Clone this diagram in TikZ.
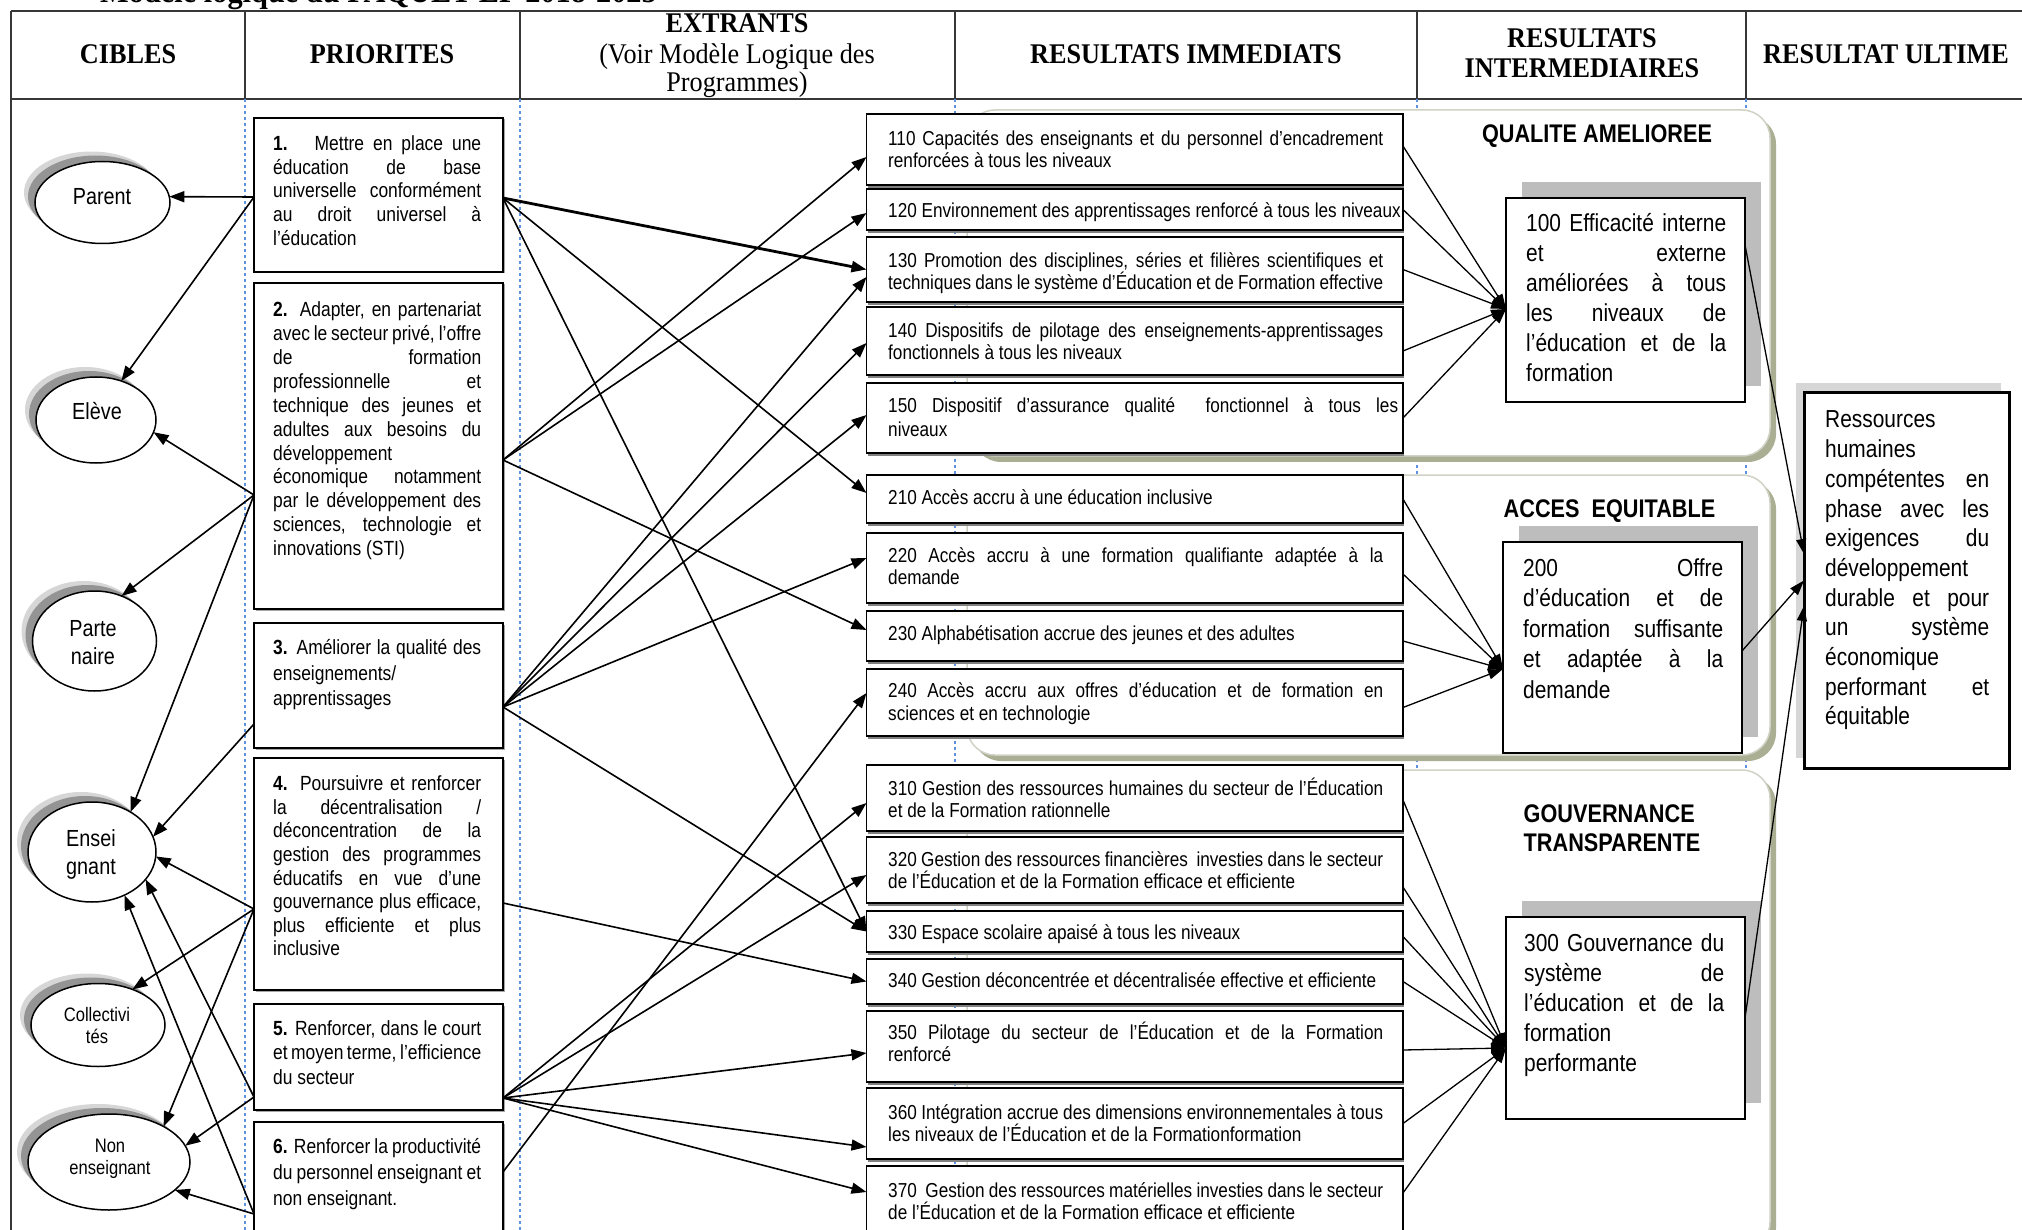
\documentclass[tikz,border=0pt]{standalone}
\usepackage{fontspec}
\usetikzlibrary{shapes.geometric,arrows.meta,shadows}
\newfontfamily\sansn[FakeStretch=0.85]{Liberation Sans}
\newfontfamily\serifn[FakeStretch=0.92]{Liberation Serif}
% one fully justified line of a fixed width (font interword glue, stretchable)
\newcommand\jwide[2]{\leavevmode\hbox to #1{\spaceskip=0pt\relax\xspaceskip=0pt\relax #2}}
\newcommand\jpri[1]{\jwide{208pt}{#1}}
\newcommand\jri[1]{\jwide{495pt}{#1}}
\newcommand\jint[1]{\jwide{200pt}{#1}}
\newcommand\jult[1]{\jwide{164pt}{#1}}
\definecolor{rulegray}{RGB}{55,55,55}
\definecolor{colsep}{RGB}{95,145,225}
\definecolor{panelline}{RGB}{208,210,198}
\definecolor{panelshade}{RGB}{170,175,148}
\begin{document}
\begin{tikzpicture}[x=1pt,y=-1pt,
  hd/.style={font=\serifn\bfseries\fontsize{28.5}{30}\selectfont, inner sep=0, anchor=base},
  hdn/.style={font=\serifn\fontsize{28.5}{30}\selectfont, inner sep=0, anchor=base},
  rule/.style={draw=rulegray, line width=2},
  dashsep/.style={draw=colsep, line width=1.2, dash pattern=on 3pt off 3pt},
  ell/.style={ellipse, draw=black, line width=1.5, fill=white, inner sep=0, outer sep=0,
    general shadow={fill=black!16, shadow xshift=-11pt, shadow yshift=10pt},
    general shadow={fill=black!42, shadow xshift=-7pt, shadow yshift=6pt}},
  lab/.style={font=\sansn\fontsize{23.3}{28}\selectfont, inner sep=0, anchor=base},
  labs/.style={font=\sansn\fontsize{19.5}{22}\selectfont, inner sep=0, anchor=base},
  prbox/.style={draw=black, line width=2.6, fill=white, inner sep=0, outer sep=0, anchor=north west,
    minimum width=249pt, general shadow={fill=black!35, shadow xshift=1.5pt, shadow yshift=-1.5pt}},
  prtxt/.style={font=\sansn\fontsize{20.5}{23.7}\selectfont, text width=212pt, align=flush left,
    inner sep=0, anchor=base west},
  ribox/.style={draw=black, line width=1.8, fill=white, inner sep=0, outer sep=0, anchor=north west,
    minimum width=536.5pt, general shadow={fill=black!50, shadow xshift=1pt, shadow yshift=-3pt}},
  ritxt/.style={font=\sansn\fontsize{20.2}{22}\selectfont, text width=515pt, align=flush left,
    inner sep=0, anchor=base west},
  itbox/.style={draw=black, line width=1.8, fill=white, inner sep=0, outer sep=0, anchor=north west,
    minimum width=239pt, general shadow={fill=black!26, shadow xshift=16pt, shadow yshift=16pt}},
  ittxt/.style={font=\sansn\fontsize{24.6}{30}\selectfont, text width=204pt, align=flush left,
    inner sep=0, anchor=base west},
  grp/.style={font=\sansn\bfseries\fontsize{25.5}{29}\selectfont, inner sep=0},
  link/.style={line width=1.6, -{Triangle[length=15pt,width=11pt]}},
  heavy/.style={link, line width=2.8},
  feed/.style={line width=1.3, -{Triangle[length=15pt,width=10pt]}}
]
\useasboundingbox (0,0) rectangle (2022,1230);
\clip (0,0) rectangle (2022,1230);

% ---------- title line (cut by the page top) ----------
\node[anchor=base west, font=\serifn\bfseries\fontsize{33}{36}\selectfont, inner sep=0] (titre)
  at (100,3) {Modèle logique du PAQUET-EF 2018-2025};

% ---------- column header ----------
\draw[rule] (11,11) -- (2022,11) (11,99) -- (2022,99);
\draw[rule] (11,11) -- (11,1230);
\foreach \x in {245,520,955,1417,1746} \draw[rule] (\x,11) -- (\x,99);
\node[hd] (hcib) at (128,63.4) {CIBLES};
\node[hd] (hpri) at (382,63.4) {PRIORITES};
\node[hd] (hext) at (737,32.5) {EXTRANTS};
\node[hdn] (hext2) at (737,63.4) {(Voir Modèle Logique des};
\node[hdn] (hext3) at (737,92) {Programmes)};
\node[hd] (hri) at (1186,63.4) {RESULTATS IMMEDIATS};
\node[hd] (hrin1) at (1582,48) {RESULTATS};
\node[hd] (hrin2) at (1582,77.7) {INTERMEDIAIRES};
\node[hd, anchor=base west] (hru) at (1763,63.4) {RESULTAT ULTIME};

% ---------- dotted column guides ----------
\foreach \x in {245,520,955,1417,1746} \draw[dashsep] (\x,99) -- (\x,1230);

% ---------- result group panels ----------
\foreach \ya/\yb in {110/456, 475/755, 770/1250} {
  \fill[panelshade, rounded corners=28] (973,\ya+6) rectangle (1776,\yb+6);
  \draw[panelline, fill=white, line width=1.5, rounded corners=28] (967,\ya) rectangle (1770,\yb);
}
\node[grp, anchor=base] (tq) at (1597,143) {QUALITE AMELIOREE};
\node[grp, anchor=base] (ta) at (1609.5,517) {ACCES\ \ EQUITABLE};
\node[grp, anchor=base west] (tg1) at (1523.5,822) {GOUVERNANCE};
\node[grp, anchor=base west] (tg2) at (1523.5,851) {TRANSPARENTE};

% ---------- intermediate results ----------
\node[itbox, minimum height=204pt] (i100) at (1506,198) {};
\node[ittxt] (ti100) at (1526,232) {\jint{100 Efficacité interne}\\
  \jint{et externe}\\ \jint{améliorées à tous}\\ \jint{les niveaux de}\\
  \jint{l’éducation et de la}\\ formation};
\node[itbox, minimum height=211pt] (i200) at (1503,542) {};
\node[ittxt, font=\sansn\fontsize{24.6}{30.5}\selectfont] (ti200) at (1523,576) {\jint{200 Offre}\\
  \jint{d’éducation et de}\\ \jint{formation suffisante}\\ \jint{et adaptée à la}\\ demande};
\node[itbox, minimum height=202pt] (i300) at (1506,917) {};
\node[ittxt] (ti300) at (1524,951) {\jint{300 Gouvernance du}\\
  \jint{système de}\\ \jint{l’éducation et de la}\\ formation\\ performante};

% ---------- ultimate result ----------
\node[draw=black, line width=3, fill=white, inner sep=0, outer sep=0, anchor=north west,
  minimum width=205pt, minimum height=375pt,
  general shadow={fill=black!16, shadow xshift=-8pt, shadow yshift=10pt}] (ru) at (1804,393) {};
\node[ittxt, text width=168pt, font=\sansn\fontsize{24.6}{29.7}\selectfont] (tru) at (1825,428)
  {Ressources\\ humaines\\ \jult{compétentes en}\\ \jult{phase avec les}\\
   \jult{exigences du}\\ développement\\ \jult{durable et pour}\\ \jult{un système}\\
   économique\\ \jult{performant et}\\ équitable};

% ---------- targets ----------
\node[ell, minimum width=135pt, minimum height=82pt] (parent) at (102.5,202.5) {};
\node[lab] (lparent) at (102,205) {Parent};
\node[ell, minimum width=120pt, minimum height=86pt] (eleve) at (96,420) {};
\node[lab] (leleve) at (97,420) {Elève};
\node[ell, minimum width=124pt, minimum height=100pt] (parten) at (94.5,641) {};
\node[lab] (lparten1) at (93,636) {Parte};
\node[lab] (lparten2) at (93,664) {naire};
\node[ell, minimum width=128pt, minimum height=100pt] (enseig) at (92,852) {};
\node[lab] (lenseig1) at (91,846) {Ensei};
\node[lab] (lenseig2) at (91,874) {gnant};
\node[ell, minimum width=134pt, minimum height=83pt] (collec) at (98,1025) {};
\node[labs] (lcollec1) at (97,1021) {Collectivi};
\node[labs] (lcollec2) at (97,1043) {tés};
\node[ell, minimum width=162pt, minimum height=96pt] (nonens) at (109,1162) {};
\node[labs] (lnonens1) at (110,1152) {Non};
\node[labs] (lnonens2) at (110,1174) {enseignant};

% ---------- priorities ----------
\node[prbox, minimum height=154pt] (p1) at (254,118) {};
\node[prtxt] (tp1) at (273,150.4) {\jpri{\textbf{1.}\ \ \ Mettre en place une}\\
  \jpri{éducation de base}\\ \jpri{universelle conformément}\\ \jpri{au droit universel à}\\ l’éducation};
\node[prbox, minimum height=326pt] (p2) at (254,283) {};
\node[prtxt, font=\sansn\fontsize{20.5}{23.9}\selectfont] (tp2) at (273,316.7) {\jpri{\textbf{2.} Adapter, en partenariat}\\
  \jpri{avec le secteur privé, l’offre}\\ \jpri{de formation}\\ \jpri{professionnelle et}\\
  \jpri{technique des jeunes et}\\ \jpri{adultes aux besoins du}\\ développement\\
  \jpri{économique notamment}\\ \jpri{par le développement des}\\ \jpri{sciences, technologie et}\\
  innovations (STI)};
\node[prbox, minimum height=125pt] (p3) at (254,623) {};
\node[prtxt, font=\sansn\fontsize{20.5}{25.5}\selectfont] (tp3) at (273,654.5)
  {\jpri{\textbf{3.} Améliorer la qualité des}\\ enseignements/\\ apprentissages};
\node[prbox, minimum height=232pt] (p4) at (254,758) {};
\node[prtxt, font=\sansn\fontsize{20.5}{23.6}\selectfont] (tp4) at (273,790.7) {\jpri{\textbf{4.} Poursuivre et renforcer}\\
  \jpri{la décentralisation /}\\ \jpri{déconcentration de la}\\ \jpri{gestion des programmes}\\
  \jpri{éducatifs en vue d’une}\\ \jpri{gouvernance plus efficace,}\\ \jpri{plus efficiente et plus}\\ inclusive};
\node[prbox, minimum height=106pt] (p5) at (254,1004) {};
\node[prtxt, font=\sansn\fontsize{20.5}{24.5}\selectfont] (tp5) at (273,1035)
  {\jpri{\textbf{5.} Renforcer, dans le court}\\ \jpri{et moyen terme, l’efficience}\\ du secteur};
\node[prbox, minimum height=128pt] (p6) at (254,1122) {};
\node[prtxt, font=\sansn\fontsize{20.5}{26}\selectfont] (tp6) at (273,1153.4)
  {\jpri{\textbf{6.} Renforcer la productivité}\\ \jpri{du personnel enseignant et}\\ non enseignant.};

% ---------- immediate results ----------
\node[ribox, minimum height=71pt] (r110) at (866.5,114) {};
\node[ritxt] (t110) at (888,145.3) {\jri{110 Capacités des enseignants et du personnel d’encadrement}\\ renforcées à tous les niveaux};
\node[ribox, minimum height=41pt] (r120) at (866.5,189) {};
\node[ritxt] (t120) at (888,217.3) {\mbox{120 Environnement des apprentissages renforcé à tous les niveaux}};
\node[ribox, minimum height=65pt] (r130) at (866.5,237) {};
\node[ritxt] (t130) at (888,267.3) {\jri{130 Promotion des disciplines, séries et filières scientifiques et}\\
  \jri{techniques dans le système d’Éducation et de Formation effective}};
\node[ribox, minimum height=68pt] (r140) at (866.5,307) {};
\node[ritxt] (t140) at (888,337.3) {\jri{140 Dispositifs de pilotage des enseignements-apprentissages}\\ fonctionnels à tous les niveaux};
\node[ribox, minimum height=70pt] (r150) at (866.5,383) {};
\node[ritxt, font=\sansn\fontsize{20.2}{24}\selectfont] (t150) at (888,412.3) {\jwide{510pt}{150 Dispositif d’assurance qualité\ \ fonctionnel à tous les}\\ niveaux};

\node[ribox, minimum height=48pt] (r210) at (866.5,475) {};
\node[ritxt] (t210) at (888,504) {210 Accès accru à une éducation inclusive};
\node[ribox, minimum height=70pt] (r220) at (866.5,533) {};
\node[ritxt] (t220) at (888,562.3) {\jri{220 Accès accru à une formation qualifiante adaptée à la}\\ demande};
\node[ribox, minimum height=50pt] (r230) at (866.5,611) {};
\node[ritxt] (t230) at (888,640.3) {230 Alphabétisation accrue des jeunes et des adultes};
\node[ribox, minimum height=67pt] (r240) at (866.5,669) {};
\node[ritxt, font=\sansn\fontsize{20.2}{23.5}\selectfont] (t240) at (888,697.3) {\jri{240 Accès accru aux offres d’éducation et de formation en}\\ sciences et en technologie};

\node[ribox, minimum height=66pt] (r310) at (866.5,765) {};
\node[ritxt] (t310) at (888,795.3) {\jri{310 Gestion des ressources humaines du secteur de l’Éducation}\\ et de la Formation rationnelle};
\node[ribox, minimum height=66pt] (r320) at (866.5,837) {};
\node[ritxt] (t320) at (888,866.3) {\jri{320 Gestion des ressources financières\ \ investies dans le secteur}\\ de l’Éducation et de la Formation efficace et efficiente};
\node[ribox, minimum height=41pt] (r330) at (866.5,911) {};
\node[ritxt] (t330) at (888,939.3) {330 Espace scolaire apaisé à tous les niveaux};
\node[ribox, minimum height=45pt] (r340) at (866.5,959) {};
\node[ritxt] (t340) at (888,987.3) {340 Gestion déconcentrée et décentralisée effective et efficiente};
\node[ribox, minimum height=71pt] (r350) at (866.5,1011) {};
\node[ritxt] (t350) at (888,1039.3) {\jri{350 Pilotage du secteur de l’Éducation et de la Formation}\\ renforcé};
\node[ribox, minimum height=71pt] (r360) at (866.5,1088) {};
\node[ritxt] (t360) at (888,1119.3) {\jri{360 Intégration accrue des dimensions environnementales à tous}\\ les niveaux de l’Éducation et de la Formationformation};
\node[ribox, minimum height=84pt] (r370) at (866.5,1166) {};
\node[ritxt] (t370) at (888,1197.3) {\jri{370\ \ Gestion des ressources matérielles investies dans le secteur}\\ de l’Éducation et de la Formation efficace et efficiente};

% ---------- connection points on the priority boxes ----------
\coordinate (p1l) at ([yshift=-2pt]p1.west);
\coordinate (p2l) at ([yshift=-49pt]p2.west);
\coordinate (p3l) at ([yshift=-38.5pt]p3.west);
\coordinate (p4l) at ([yshift=-35pt]p4.west);
\coordinate (p5l) at ([yshift=-40pt]p5.west);
\coordinate (p6l) at ([yshift=-28pt]p6.west);
\coordinate (p1r) at ([yshift=-3pt]p1.east);
\coordinate (p2r) at ([yshift=-14pt]p2.east);
\coordinate (p3r) at ([yshift=-21.5pt]p3.east);
\coordinate (p4r) at ([yshift=-29pt]p4.east);
\coordinate (p5r) at ([yshift=-41pt]p5.east);
\coordinate (p6r) at ([yshift=14pt]p6.east);

% priorities -> targets
\draw[link] (p1l) -- (parent.5);
\draw[link] (p1l) -- (eleve.57);
\draw[link] (p2l) -- (eleve.-12);
\draw[link] (p2l) -- (parten.59);
\draw[link] (p2l) -- (enseig.46);
\draw[link] (p3l) -- (enseig.14);
\draw[link] (p4l) -- (enseig.-4);
\draw[link] (p4l) -- (collec.46);
\draw[link] (p4l) -- (nonens.33);
\draw[link] (p5l) -- (enseig.-27);
\draw[link] (p5l) -- (nonens.12);
\draw[link] (p6l) -- (enseig.-53);
\draw[link] (p6l) -- (nonens.-23);

% priorities -> immediate results
\draw[heavy] (p1r) -- (r130.west);
\draw[link] (p1r) -- ([yshift=6pt]r210.west);
\draw[link] (p1r) -- (r330.west);
\draw[link] (p2r) -- ([yshift=-7.5pt]r110.west);
\draw[link] (p2r) -- ([yshift=-3.5pt]r120.west);
\draw[link] (p2r) -- ([yshift=6pt]r230.west);
\draw[link] (p3r) -- ([yshift=-7.5pt]r130.west);
\draw[link] (p3r) -- ([yshift=-2pt]r140.west);
\draw[link] (p3r) -- ([yshift=3pt]r150.west);
\draw[link] (p3r) -- ([yshift=10pt]r220.west);
\draw[link] (p3r) -- (r330.west);
\draw[link] (p4r) -- (r340.west);
\draw[link] (p5r) -- ([yshift=-5pt]r310.west);
\draw[link] (p5r) -- ([yshift=-5pt]r320.west);
\draw[link] (p5r) -- ([yshift=-6.5pt]r350.west);
\draw[link] (p5r) -- ([yshift=-23.5pt]r360.west);
\draw[link] (p5r) -- ([yshift=16pt]r370.west);
\draw[link] (p6r) -- ([yshift=9.5pt]r240.west);

% immediate -> intermediate results
\foreach \n/\s in {r110/3.5, r120/0, r130/0, r140/-10, r150/0}
  \draw[feed] ([yshift=\s]\n.east) -- ([yshift=-9]i100.west);
\foreach \n/\s in {r210/0, r220/-6, r230/-5, r240/-5}
  \draw[feed] ([yshift=\s]\n.east) -- ([yshift=-21.5]i200.west);
\foreach \n/\s in {r310/-2, r320/-17, r330/-5, r340/0, r350/-3.5, r360/0, r370/15}
  \draw[feed] ([yshift=\s]\n.east) -- ([yshift=-30]i300.west);

% intermediate -> ultimate result
\draw[feed] ([yshift=55]i100.east) -- ([yshift=26.5]ru.west);
\draw[feed] ([yshift=-3.5]i200.east) -- (ru.west);
\draw[feed] (i300.east) -- ([yshift=-25.5]ru.west);
\end{tikzpicture}
\end{document}
